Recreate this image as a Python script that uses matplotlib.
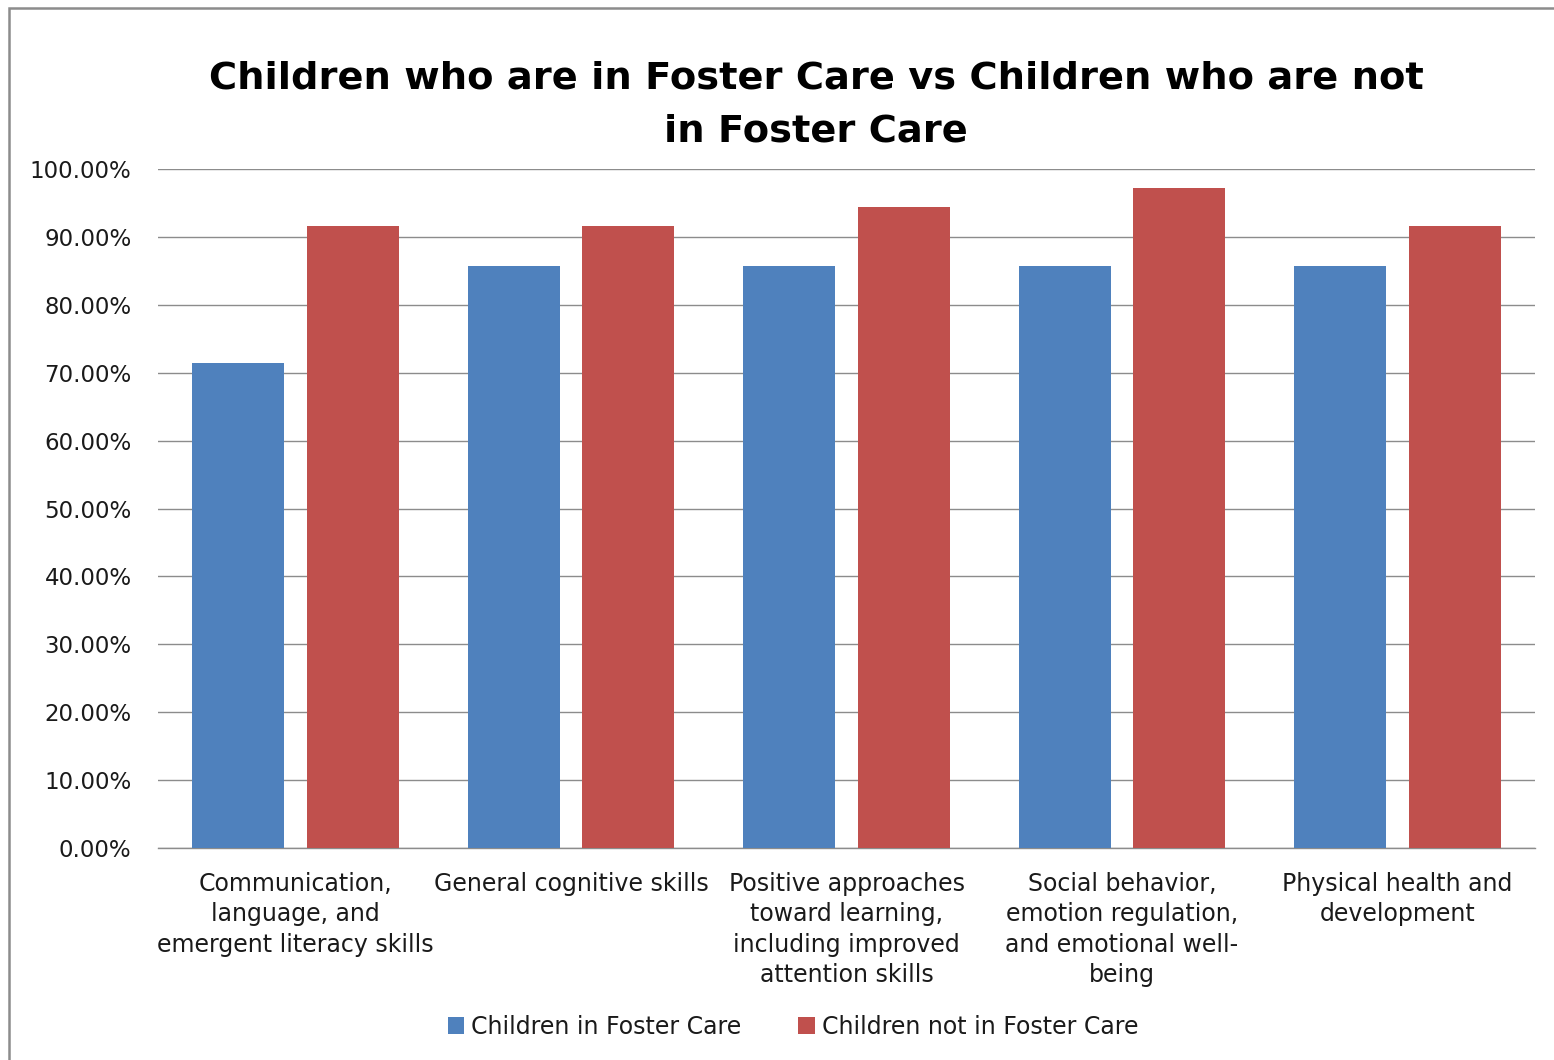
import matplotlib
matplotlib.use("Agg")
import matplotlib.pyplot as plt
from matplotlib.patches import Rectangle
from matplotlib.ticker import FuncFormatter
import numpy as np

plt.rcParams["font.family"] = ["DejaVu Sans"]

categories = [
    "Communication,\nlanguage, and\nemergent literacy skills",
    "General cognitive skills",
    "Positive approaches\ntoward learning,\nincluding improved\nattention skills",
    "Social behavior,\nemotion regulation,\nand emotional well-\nbeing",
    "Physical health and\ndevelopment",
]
in_foster_care = [71.43, 85.71, 85.71, 85.71, 85.71]
not_in_foster_care = [91.67, 91.67, 94.44, 97.22, 91.67]
series_names = ["Children in Foster Care", "Children not in Foster Care"]
title = "Children who are in Foster Care vs Children who are not\nin Foster Care"

W, H = 1554, 1060
fig = plt.figure(figsize=(W / 100, H / 100), dpi=100)
fig.patch.set_facecolor("white")

# chart-area frame (runs off the right and bottom edges)
fig.add_artist(Rectangle((9 / W, -0.1), 1.2, 1 - 8 / H + 0.1,
                         transform=fig.transFigure, fill=False,
                         edgecolor="#8c8c8c", linewidth=1.8))

ax = fig.add_axes([158 / W, 1 - 848 / H, (1535 - 158) / W, (848 - 169) / H])
x = np.arange(len(categories))
bw = 0.334
off = 0.208
b1 = ax.bar(x - off, in_foster_care, bw, color="#4F81BD", zorder=3)
b2 = ax.bar(x + off, not_in_foster_care, bw, color="#C0504D", zorder=3)

ax.set_xlim(-0.5, len(categories) - 0.5)
ax.set_ylim(0, 100)
ax.set_yticks(np.arange(0, 101, 10))
ax.yaxis.set_major_formatter(FuncFormatter(lambda v, p: f"{v:.2f}%"))
ax.grid(axis="y", color="#8c8c8c", linewidth=1.0, zorder=0)
for s in ["top", "right", "left"]:
    ax.spines[s].set_visible(False)
ax.spines["bottom"].set_color("#8c8c8c")
ax.spines["bottom"].set_linewidth(1.0)
ax.tick_params(axis="y", length=0, pad=19, labelsize=16.5, labelcolor="#1a1a1a")
ax.tick_params(axis="x", length=0, pad=17, labelsize=17, labelcolor="#1a1a1a")
ax.set_xticks(x)
ax.set_xticklabels(categories, linespacing=1.34, va="top")

fig.text(816 / W, 1 - 105 / H, title, ha="center", va="center",
         fontsize=27.6, fontweight="bold", linespacing=1.6)

fig.legend([b1, b2], series_names, loc="center", bbox_to_anchor=(793 / W, 1 - 1027 / H),
           ncol=2, frameon=False, fontsize=17, handlelength=0.7, handleheight=0.7,
           handletextpad=0.3, columnspacing=2.4, labelcolor="#1a1a1a")

fig.savefig("out.png", dpi=100, facecolor="white")
